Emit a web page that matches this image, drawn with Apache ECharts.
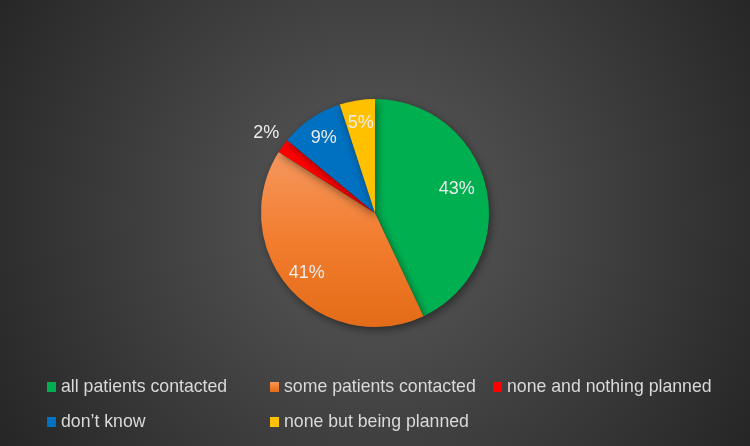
<!DOCTYPE html>
<html>
<head>
<meta charset="utf-8">
<script src="https://cdn.jsdelivr.net/npm/echarts@6/dist/echarts.min.js"></script>
<style>html,body{margin:0;padding:0;background:#262626}#c{width:750px;height:446px}</style>
</head>
<body>
<div id="c"></div>
<script>
const categories = ['all patients contacted', 'some patients contacted', 'none and nothing planned', "don\u2019t know", 'none but being planned'];
const values = [43, 41, 2, 9, 5];
const colors = ['#00B050', null, '#FF0000', '#0070C0', '#FFC000'];

const chart = echarts.init(document.getElementById('c'));
const orangeGrad = new echarts.graphic.LinearGradient(0, 0, 0, 1, [
  { offset: 0, color: '#F5975F' },
  { offset: 0.5, color: '#F27D2E' },
  { offset: 1, color: '#E46C18' }
]);
const fills = colors.map(c => c || orangeGrad);
const legendPos = [[47, 378], [270, 378], [493, 378], [47, 413], [270, 413]];
const font = 'Liberation Sans';

const pieData = categories.map((n, i) => ({ name: n, value: values[i], itemStyle: { color: fills[i] } }));
const labelData = categories.map((n, i) => {
  const d = { name: n, value: values[i], itemStyle: { color: 'rgba(0,0,0,0)' } };
  if (values[i] < 3) {
    d.label = { position: 'outside' };
    d.labelLine = { show: false, length: 18, length2: 0 };
  }
  return d;
});

chart.setOption({
  backgroundColor: new echarts.graphic.RadialGradient(0.5, 0.48, 0.98, [
    { offset: 0, color: '#5b5b5b' },
    { offset: 1, color: '#262626' }
  ]),
  animation: false,
  legend: categories.map((n, i) => ({
    data: [n],
    left: legendPos[i][0],
    top: legendPos[i][1],
    itemWidth: 9,
    itemHeight: 10,
    itemGap: 0,
    icon: 'rect',
    padding: 0,
    textStyle: { color: '#d9d9d9', fontSize: 17.7, fontFamily: font }
  })),
  series: [
    {
      type: 'pie',
      center: [375, 213],
      radius: [0, 114],
      startAngle: 90,
      clockwise: true,
      silent: true,
      label: { show: false },
      labelLine: { show: false },
      itemStyle: { shadowBlur: 8, shadowColor: 'rgba(0,0,0,0.45)', shadowOffsetX: 2, shadowOffsetY: 3 },
      data: pieData
    },
    {
      type: 'pie',
      center: [375, 213],
      radius: [62, 114],
      startAngle: 90,
      clockwise: true,
      silent: true,
      label: { show: true, position: 'inside', formatter: '{c}%', color: '#ececec', fontSize: 18, fontFamily: font },
      labelLine: { show: false },
      labelLayout: function (p) {
        if (p.dataIndex === 2) return { dx: 16, dy: -2 };
        if (p.dataIndex === 0) return { dx: -7, dy: -4 };
        return {};
      },
      data: labelData
    }
  ]
});
</script>
</body>
</html>
